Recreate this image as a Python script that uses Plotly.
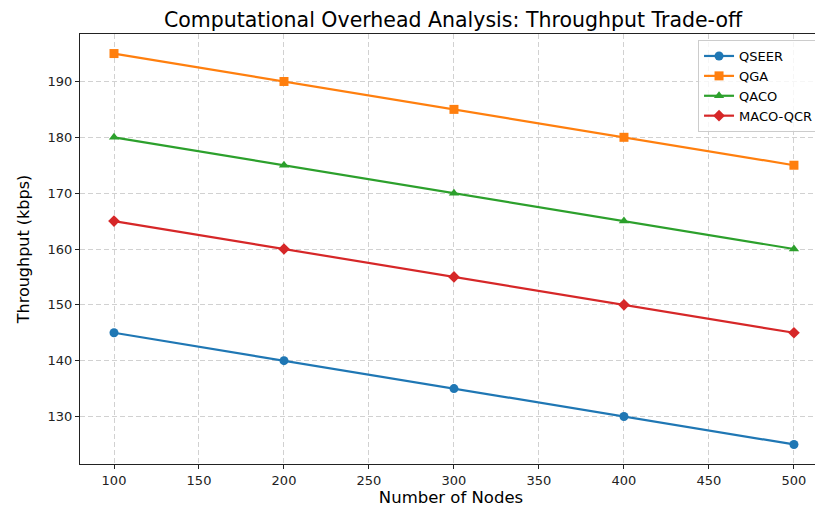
import plotly.graph_objects as go

nodes = [100, 200, 300, 400, 500]
qseer = [145, 140, 135, 130, 125]
qga = [195, 190, 185, 180, 175]
qaco = [180, 175, 170, 165, 160]
maco_qcr = [165, 160, 155, 150, 145]

series = [
    ("QSEER", qseer, "#1f77b4", "circle"),
    ("QGA", qga, "#ff7f0e", "square"),
    ("QACO", qaco, "#2ca02c", "triangle-up"),
    ("MACO-QCR", maco_qcr, "#d62728", "diamond"),
]

fig = go.Figure()
for name, vals, color, sym in series:
    fig.add_trace(go.Scatter(
        x=nodes, y=vals, name=name, mode="lines+markers",
        line=dict(color=color, width=2.2),
        marker=dict(symbol=sym, size=9, color=color),
    ))

axis_common = dict(
    showline=True, linecolor="#222", linewidth=1.2, mirror=True,
    ticks="outside", ticklen=4, tickcolor="#222",
    showgrid=True, gridcolor="rgba(0,0,0,0.18)", griddash="5px,3px", gridwidth=1,
    zeroline=False, tickfont=dict(size=13, color="#222"),
)

# page body has an 8px margin, so the figure is sized to fill the remaining window
fig.update_layout(
    width=815, height=499,
    margin=dict(l=72, r=0, t=26, b=40),
    paper_bgcolor="white", plot_bgcolor="white",
    font=dict(family="DejaVu Sans", color="black"),
    title=dict(text="Computational Overhead Analysis: Throughput Trade-off",
               x=0.546, xanchor="center", y=0.976, yanchor="middle",
               font=dict(size=20.5)),
    xaxis=dict(axis_common, range=[80, 516.5], tickvals=[100,150,200,250,300,350,400,450,500],
               title=dict(text="Number of Nodes", font=dict(size=16.5), standoff=8)),
    yaxis=dict(axis_common, range=[121.5, 198.5], tickvals=[130,140,150,160,170,180,190],
               title=dict(text="Throughput (kbps)", font=dict(size=16), standoff=13)),
    legend=dict(x=0.996, y=0.986, xanchor="right", yanchor="top",
                bgcolor="rgba(255,255,255,0.8)", bordercolor="#cccccc", borderwidth=1,
                font=dict(size=13)),
    showlegend=True,
)

fig.write_html("out.html")
